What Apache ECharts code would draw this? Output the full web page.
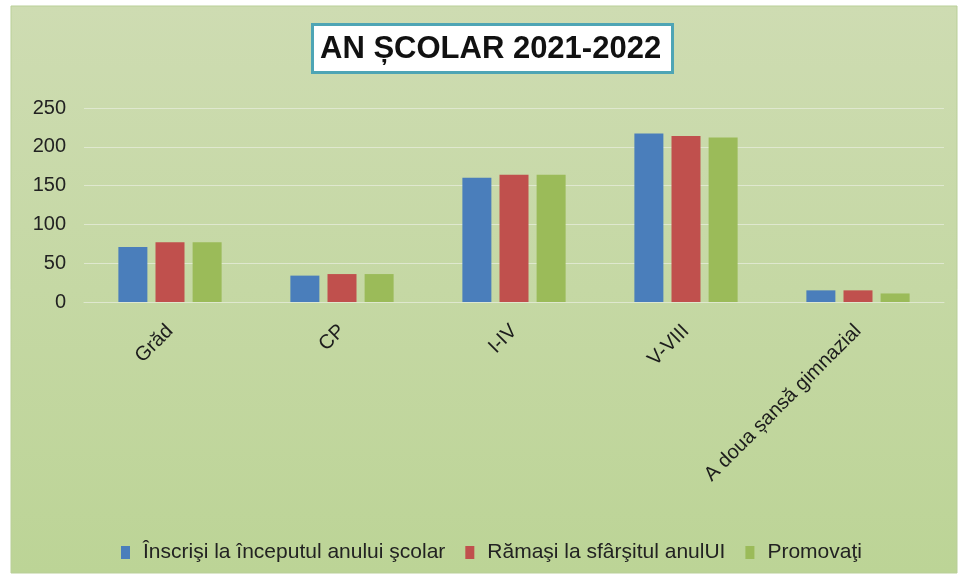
<!DOCTYPE html>
<html>
<head>
<meta charset="utf-8">
<script src="https://cdn.jsdelivr.net/npm/echarts@6/dist/echarts.min.js"></script>
<style>
    html, body { margin: 0; padding: 0; background: #fff; }
    #chart { width: 963px; height: 579px; }
</style>
</head>
<body>
<div id="chart"></div>
<script>
const categories = ['Grăd', 'CP', 'I-IV', 'V-VIII', 'A doua șansă gimnazial'];
const inscrisi = [71, 34, 160, 217, 15];
const ramasi = [77, 36, 164, 214, 15];
const promovati = [77, 36, 164, 212, 11];
const seriesNames = ['Înscrişi la începutul anului şcolar', 'Rămaşi la sfârşitul anulUI', 'Promovaţi'];
const yTicks = [0, 50, 100, 150, 200, 250];

const font = '"Liberation Sans", Arial, sans-serif';

const chart = echarts.init(document.getElementById('chart'));

const option = {
    animation: false,
    textStyle: { fontFamily: font },
    graphic: [
        {
            type: 'rect',
            z: -10,
            silent: true,
            shape: { x: 11, y: 6, width: 946, height: 567 },
            style: {
                fill: new echarts.graphic.LinearGradient(0, 0, 0, 1, [
                    { offset: 0, color: '#cedcb2' },
                    { offset: 1, color: '#bcd496' }
                ]),
                stroke: '#b9cf98',
                lineWidth: 1
            }
        }
    ],
    title: {
        text: 'AN ȘCOLAR 2021-2022',
        left: 312,
        top: 24,
        backgroundColor: '#ffffff',
        borderColor: '#4ea5b5',
        borderWidth: 3,
        padding: [10, 12, 8, 8],
        textStyle: {
            fontFamily: font,
            fontWeight: 'bold',
            fontSize: 31,
            color: '#111'
        }
    },
    legend: {
        left: 116,
        top: 537,
        itemWidth: 9,
        itemHeight: 13,
        itemGap: 20,
        icon: 'rect',
        data: seriesNames,
        textStyle: { fontFamily: font, fontSize: 21, color: '#222', padding: [0, 0, 0, 8] }
    },
    grid: { left: 84, right: 19, top: 108, bottom: 277 },
    xAxis: {
        type: 'category',
        data: categories,
        axisLine: { show: true, lineStyle: { color: '#dfe8cf', width: 1 } },
        axisTick: { show: false },
        axisLabel: {
            rotate: 45,
            interval: 0,
            margin: 26,
            fontSize: 20,
            color: '#1c1c1c',
            fontFamily: font
        }
    },
    yAxis: {
        type: 'value',
        min: 0,
        max: 250,
        interval: 50,
        axisLine: { show: false },
        axisTick: { show: false },
        splitLine: { lineStyle: { color: '#dfe8cf', width: 1 } },
        axisLabel: {
            margin: 18,
            fontSize: 20,
            color: '#222',
            fontFamily: font,
            customValues: yTicks
        }
    },
    series: [
        { name: seriesNames[0], type: 'bar', data: inscrisi, barWidth: 29, barGap: '28%', itemStyle: { color: '#4a7ebb' } },
        { name: seriesNames[1], type: 'bar', data: ramasi, barWidth: 29, barGap: '28%', itemStyle: { color: '#c0504d' } },
        { name: seriesNames[2], type: 'bar', data: promovati, barWidth: 29, barGap: '28%', itemStyle: { color: '#9bbb59' } }
    ]
};

chart.setOption(option);
</script>
</body>
</html>
